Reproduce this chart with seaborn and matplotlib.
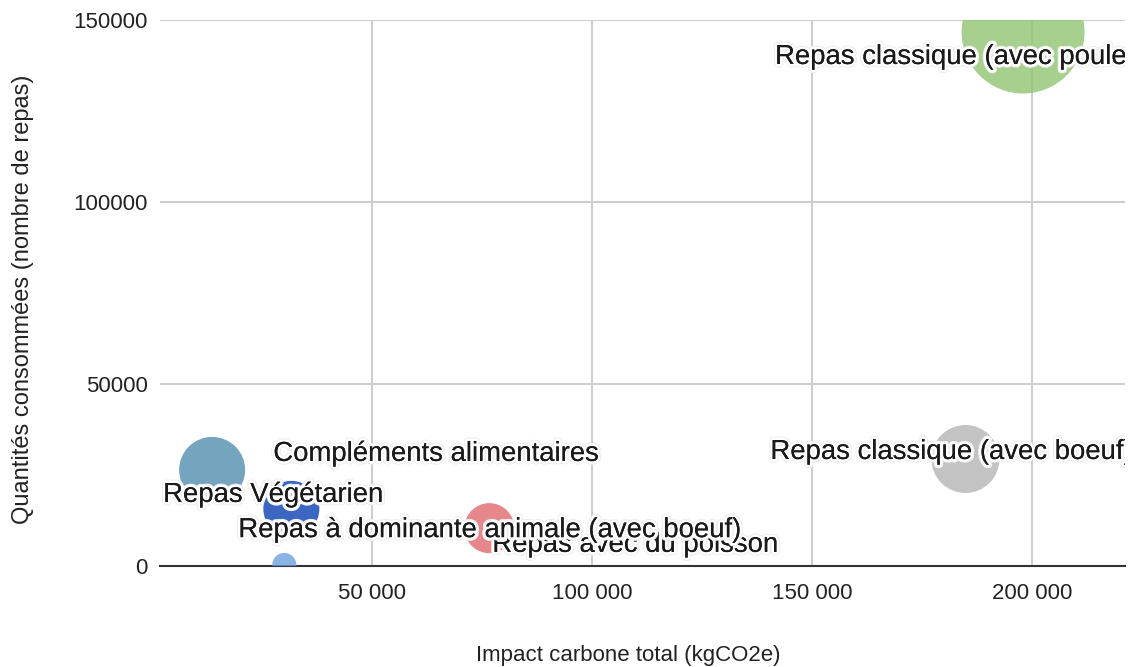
import numpy as np
import pandas as pd
import seaborn as sns
import matplotlib.pyplot as plt
import matplotlib.patheffects as pe
from matplotlib.ticker import FuncFormatter

# donnees
repas = ['Repas Végétarien', 'Compléments alimentaires', 'Repas avec du poisson',
         'Repas à dominante animale (avec boeuf)', 'Repas classique (avec boeuf)',
         'Repas classique (avec poulet)']
impact = [13600, 30000, 31600, 76600, 184800, 197900]
quantite = [26400, 300, 15700, 10400, 29400, 146700]
taille = [1089, 144, 784, 625, 1156, 3782]
couleurs = ['#528eaf', '#6da1dc', '#0a40b3', '#e0696e', '#b5b5b5', '#91c573']

# decalage des etiquettes (pixels) par rapport au centre des bulles
decal_x = [-49, -11, 201, -251, -195, -248]
decal_y = [-25, 111, -36, -2, 7, -25]

x_ticks = [50000, 100000, 150000, 200000]
y_ticks = [0, 50000, 100000, 150000]

df = pd.DataFrame({'repas': repas, 'impact': impact, 'quantite': quantite, 'taille': taille})

sns.set_style('white')
plt.rcParams['font.family'] = ['Liberation Sans', 'DejaVu Sans']

fig = plt.figure(figsize=(11.3, 6.67), dpi=100)
ax = fig.add_axes([160 / 1130, 1 - 566 / 667, 965 / 1130, 546 / 667])

# aire du marqueur proportionnelle a la taille (rayon en px -> points)
k = (2 * 0.72) ** 2
sns.scatterplot(data=df, x='impact', y='quantite', hue='repas', palette=dict(zip(repas, couleurs)),
                size='taille', sizes=(min(taille) * k, max(taille) * k),
                size_norm=(min(taille), max(taille)), alpha=0.8, linewidth=0,
                legend=False, ax=ax, zorder=3)

ax.set_xlim(1750, 221070)
ax.set_ylim(0, 150000)
ax.set_xticks(x_ticks)
ax.set_yticks(y_ticks)
ax.xaxis.set_major_formatter(FuncFormatter(lambda v, p: f'{int(v):,}'.replace(',', ' ')))
ax.yaxis.set_major_formatter(FuncFormatter(lambda v, p: f'{int(v)}'))
ax.tick_params(axis='both', length=0, labelsize=16, colors='#222222')
ax.tick_params(axis='x', pad=12)
ax.tick_params(axis='y', pad=9)
ax.grid(True, color='#cccccc', linewidth=1.4, zorder=0)
ax.set_axisbelow(True)
for s in ['top', 'right', 'left']:
    ax.spines[s].set_visible(False)
ax.spines['bottom'].set_color('#333333')
ax.spines['bottom'].set_linewidth(1.5)
ax.spines['bottom'].set_zorder(2.5)
ax.set_xlabel('')
ax.set_ylabel('')

halo = [pe.withStroke(linewidth=5, foreground='#eeeeee'),
        pe.withStroke(linewidth=3.5, foreground='white'), pe.Normal()]
for i, nom in enumerate(repas):
    ax.annotate(nom, (impact[i], quantite[i]), xytext=(decal_x[i], decal_y[i]),
                textcoords='offset pixels', ha='left', va='center', fontsize=19.8,
                color='#1a1a1a', path_effects=halo, clip_on=True, zorder=5)

fig.text(628 / 1130, 1 - 655 / 667, 'Impact carbone total (kgCO2e)', ha='center', va='center',
         fontsize=16, color='#222222')
fig.text(23 / 1130, 1 - 299 / 667, 'Quantités consommées (nombre de repas)', ha='center', va='center',
         rotation=90, fontsize=17, color='#222222')

fig.savefig('out.png', dpi=100)
